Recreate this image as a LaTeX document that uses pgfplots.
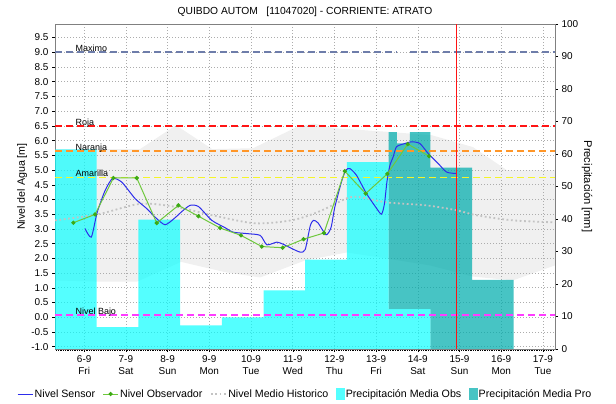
\documentclass[border=0pt]{standalone}
\usepackage{fontspec}
\setmainfont{Liberation Sans}
\usepackage{pgfplots}
\pgfplotsset{compat=1.18}
\definecolor{sensor}{RGB}{45,45,235}
\definecolor{obsline}{RGB}{110,200,60}
\definecolor{obsmark}{RGB}{60,170,20}
\definecolor{chist}{RGB}{195,195,195}
\definecolor{cmax}{RGB}{110,125,170}
\definecolor{croja}{RGB}{255,20,20}
\definecolor{cnar}{RGB}{255,150,40}
\definecolor{cama}{RGB}{245,245,40}
\definecolor{cbajo}{RGB}{255,60,255}
\definecolor{band}{RGB}{240,240,240}
\definecolor{pobs}{RGB}{0,255,255}
\definecolor{ppro}{RGB}{0,173,173}
\definecolor{axgray}{RGB}{128,128,128}
\tikzset{thrlab/.style={anchor=base west, inner sep=0pt, yshift=0.6bp, font=\fontsize{9}{10}\selectfont}}
\pgfplotsset{
  set layers=standard,
  mylineleg/.style={legend image code/.code={\draw[##1] (0bp,0bp) -- (15bp,0bp);}},
  mymarkleg/.style={legend image code/.code={\draw[##1] (0bp,0bp) -- (15bp,0bp); \fill[obsmark] (7.5bp,0bp) circle (1.6bp);}},
  myboxleg/.style={legend image code/.code={\fill[##1] (0bp,-5.5bp) rectangle (8bp,5.5bp);}},
  commonax/.style={at={(55bp,55bp)}, anchor=south west, scale only axis,
    width=500bp, height=325bp, xmin=5.30, xmax=17.29,
    tick label style={font=\fontsize{10}{12}\selectfont},
    /pgf/number format/assume math mode=true},
  thr/.style={line width=1.6bp, dash pattern=on 7bp off 4bp},
  histline/.style={draw=chist, line width=1.8bp, dash pattern=on 1.8bp off 2.6bp},
}
\begin{document}
\begin{tikzpicture}
% ---------- precipitation axis (right) ----------
\begin{axis}[commonax, ymin=0, ymax=100,
  axis x line=none, axis y line*=right,
  axis line style={draw=axgray},
  ytick={0,10,20,30,40,50,60,70,80,90,100},
  tick align=outside, major tick length=3bp,
  tick style={black, line width=0.4pt},
  every axis y label/.style={at={(axis description cs:1.064,0.5)}, anchor=center, rotate=-90, font=\fontsize{11.2}{13}\selectfont},
  ylabel={Precipitación [mm]}]
 \addplot[fill=ppro, fill opacity=0.72, draw=none] coordinates {
   (13.3,12.3) (13.3,66.7) (13.50,66.7) (13.50,63.3) (13.81,63.3) (13.81,66.7)
   (14.3,66.7) (14.3,55.8) (15.3,55.8) (15.3,21.3) (16.3,21.3) (16.3,0)
   (14.3,0) (14.3,12.3)} -- cycle;
 \addplot[const plot, fill=pobs, fill opacity=0.67, draw=none] coordinates {
   (5.30,61.4) (6.3,6.7) (7.3,39.8) (8.3,7.3) (9.3,9.7) (10.3,18.0)
   (11.3,27.5) (12.3,57.5) (13.3,12.3) (14.3,12.3)} \closedcycle;
\end{axis}
% ---------- water level axis (left) ----------
\begin{axis}[commonax, ymin=-1.08, ymax=9.96,
  axis line style={draw=axgray},
  xtick={6,7,8,9,10,11,12,13,14,15,16,17},
  xticklabels={{6-9\\Fri},{7-9\\Sat},{8-9\\Sun},{9-9\\Mon},{10-9\\Tue},{11-9\\Wed},{12-9\\Thu},{13-9\\Fri},{14-9\\Sat},{15-9\\Sun},{16-9\\Mon},{17-9\\Tue}},
  xticklabel style={align=center, font=\fontsize{10}{12}\selectfont},
  minor xtick={5.3333333,5.375,...,17.28},
  xtick pos=bottom, ytick pos=left,
  ytick={-1,-0.5,0,0.5,1,1.5,2,2.5,3,3.5,4,4.5,5,5.5,6,6.5,7,7.5,8,8.5,9,9.5},
  y tick label style={/pgf/number format/fixed, /pgf/number format/fixed zerofill, /pgf/number format/precision=1},
  tick align=outside, major tick length=3bp, minor tick length=2bp,
  tick style={black, line width=0.4pt},
  grid=major,
  major grid style={draw=gray!65, line width=0.55pt, dash pattern=on 1.2bp off 1.8bp},
  title={QUIBDO AUTOM\ \ \ [11047020] - CORRIENTE: ATRATO},
  every axis title/.style={at={(0.5,1)}, anchor=center, yshift=12bp, font=\fontsize{10.3}{12}\selectfont},
  every axis y label/.style={at={(axis description cs:-0.066,0.5)}, anchor=center, rotate=90, font=\fontsize{10.7}{12}\selectfont},
  ylabel={Nivel del Agua [m]},
  legend style={at={(0.5,-0.1385)}, anchor=center, draw=none, fill=none,
    font=\fontsize{10.7}{12}\selectfont, legend columns=5,
    nodes={inner sep=1.5bp},
    /tikz/every even column/.append style={column sep=6bp}},
]
 % historic band
 \addplot[forget plot, on layer=axis background, fill=band, draw=none] coordinates {
   (5.30,5.71) (6.34,5.71) (7.34,5.71) (8.2,6.52) (9.07,5.71) (10.05,5.74)
   (11.1,6.46) (11.5,6.58) (12.0,6.42) (13.25,6.30) (14.34,6.18) (15.32,5.78)
   (16.14,4.99) (17.29,4.99)
   (17.29,1.76) (16.28,1.25) (15.32,1.38) (14.29,1.76) (13.09,2.03) (12.30,2.20)
   (11.30,1.93) (10.22,1.35) (9.38,1.53) (8.32,1.88) (7.27,1.21) (6.34,1.21) (5.30,1.25)} -- cycle;
 % thresholds
 \addplot[forget plot, thr, cmax] coordinates {(5.30,9.0) (13.50,9.0)};
 \addplot[forget plot, thr, cmax] coordinates {(13.81,9.0) (17.29,9.0)};
 \addplot[forget plot, thr, croja] coordinates {(5.30,6.5) (13.50,6.5)};
 \addplot[forget plot, thr, croja] coordinates {(13.81,6.5) (17.29,6.5)};
 \addplot[forget plot, thr, cnar] coordinates {(5.30,5.64) (17.29,5.64)};
 \addplot[forget plot, thr, cama] coordinates {(5.30,4.75) (17.29,4.75)};
 \addplot[forget plot, thr, cbajo] coordinates {(5.30,0.08) (17.29,0.08)};
 \node[thrlab] at (axis cs:5.79,9.0) {Maximo};
 \node[thrlab] at (axis cs:5.79,6.5) {Roja};
 \node[thrlab] at (axis cs:5.79,5.64) {Naranja};
 \node[thrlab] at (axis cs:5.79,4.75) {Amarilla};
 \node[thrlab] at (axis cs:5.79,0.08) {Nivel Bajo};
 % historic mean
 \addplot[forget plot, histline, smooth] coordinates {
   (5.30,3.29) (6.34,3.50) (7.34,3.85) (8.18,3.75) (9.09,3.46) (10.1,3.19) (11.0,3.30)
   (11.65,3.60) (12.30,4.04) (12.6,4.08) (13.26,3.90) (14.2,3.80) (14.94,3.63)
   (15.42,3.46) (16.28,3.29) (17.29,3.22)};
 % sensor
 \addplot[forget plot, sensor, line width=1pt, smooth, tension=0.4] coordinates {
   (6.02,3.01) (6.17,2.72) (6.31,3.55) (6.50,4.30) (6.68,4.71) (6.90,4.59) (7.22,4.03)
   (7.50,3.69) (7.70,3.40) (7.94,3.14) (8.18,3.38) (8.35,3.60) (8.54,3.80) (8.74,3.76)
   (9.06,3.29) (9.38,3.04) (9.57,2.89) (9.90,2.84) (10.22,2.78) (10.38,2.46) (10.62,2.55)
   (10.77,2.48) (10.94,2.36) (11.18,2.21) (11.30,2.30) (11.42,3.10) (11.50,3.29)
   (11.61,3.20) (11.80,2.80) (11.92,3.05) (12.01,3.74) (12.18,4.65) (12.28,5.00)
   (12.37,5.05) (12.53,4.82) (12.77,4.20) (13.01,3.70) (13.13,3.50) (13.20,3.85)
   (13.26,4.60) (13.33,5.15) (13.41,5.45) (13.49,5.79) (13.69,5.90) (13.85,5.96)
   (14.05,5.90) (14.25,5.56) (14.49,5.22) (14.69,4.93) (14.93,4.88)};
 % observer
 \addplot[forget plot, obsline, line width=1pt, mark=*, mark size=1.6bp, mark options={fill=obsmark, draw=obsmark}] coordinates {
   (5.74,3.21) (6.26,3.49) (6.70,4.73) (7.26,4.73) (7.74,3.20) (8.26,3.80) (8.74,3.43)
   (9.26,3.03) (9.76,2.78) (10.26,2.40) (10.76,2.36) (11.26,2.65) (11.75,2.86)
   (12.25,4.96) (12.75,4.20) (13.27,4.87) (13.76,5.88) (14.27,5.47)};
 % now line
 \addplot[forget plot, croja, line width=0.8pt] coordinates {(14.92,-1.08) (14.92,9.96)};
 % legend
 \addlegendimage{mylineleg, sensor, line width=1pt}
 \addlegendentry{Nivel Sensor}
 \addlegendimage{mymarkleg, obsline, line width=1pt}
 \addlegendentry{Nivel Observador}
 \addlegendimage{mylineleg, histline}
 \addlegendentry{Nivel Medio Historico}
 \addlegendimage{myboxleg, pobs!67}
 \addlegendentry{Precipitación Media Obs}
 \addlegendimage{myboxleg, ppro!72}
 \addlegendentry{Precipitación Media Pro}
\end{axis}
\pgfresetboundingbox
\path[use as bounding box] (0,0) rectangle (616bp,404bp);
\end{tikzpicture}
\end{document}
